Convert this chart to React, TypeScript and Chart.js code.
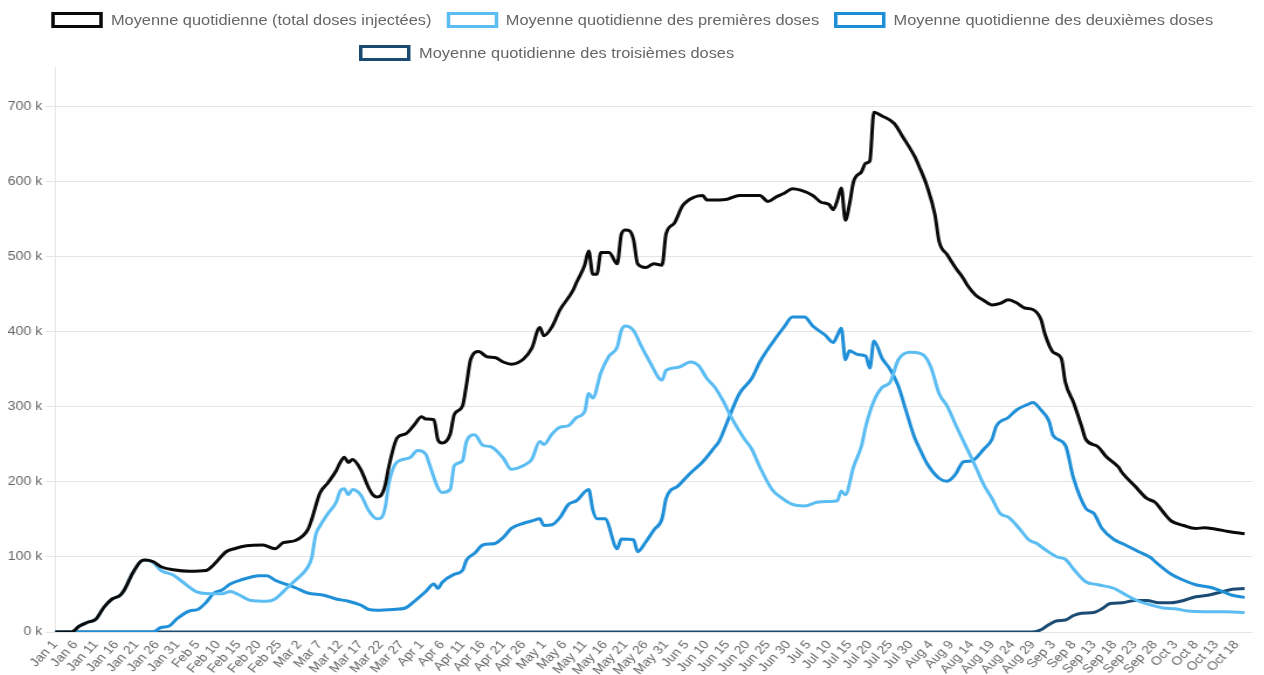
import React, { useEffect, useRef } from "react";
import { Chart, registerables } from "chart.js";

Chart.register(...registerables);

// ---- DATA (values in thousands of doses, x = day index from Jan 1, 2021) ----
const tickLabels: string[] = [
  "Jan 1", "Jan 6", "Jan 11", "Jan 16", "Jan 21", "Jan 26", "Jan 31", "Feb 5", "Feb 10", "Feb 15",
  "Feb 20", "Feb 25", "Mar 2", "Mar 7", "Mar 12", "Mar 17", "Mar 22", "Mar 27", "Apr 1", "Apr 6",
  "Apr 11", "Apr 16", "Apr 21", "Apr 26", "May 1", "May 6", "May 11", "May 16", "May 21", "May 26",
  "May 31", "Jun 5", "Jun 10", "Jun 15", "Jun 20", "Jun 25", "Jun 30", "Jul 5", "Jul 10", "Jul 15",
  "Jul 20", "Jul 25", "Jul 30", "Aug 4", "Aug 9", "Aug 14", "Aug 19", "Aug 24", "Aug 29", "Sep 3",
  "Sep 8", "Sep 13", "Sep 18", "Sep 23", "Sep 28", "Oct 3", "Oct 8", "Oct 13", "Oct 18",
];

const seriesNames: string[] = [
  "Moyenne quotidienne (total doses injectées)",
  "Moyenne quotidienne des premières doses",
  "Moyenne quotidienne des deuxièmes doses",
  "Moyenne quotidienne des troisièmes doses",
];

const seriesColors: string[] = ["#0a0a0a", "#5bbdf2", "#1f8fd8", "#1b4b72"];

const totalSeries: [number, number][] = [
  [0, 0], [4, 0], [6, 8], [8, 13], [10, 17], [12, 33], [14, 44], [16, 49], [17, 56], [19, 78],
  [21, 94], [22, 96], [24, 94], [26, 87], [29, 83], [33, 81], [37, 82], [39, 90], [42, 107], [44, 111],
  [47, 115], [51, 116], [54, 111], [56, 119], [59, 122], [62, 136], [63, 150], [65, 185], [67, 199], [69, 215],
  [70, 226], [71, 233], [72, 226], [73, 230], [75, 217], [77, 192], [78, 183], [79, 180], [80, 182], [81, 195],
  [82, 222], [84, 259], [86, 264], [88, 275], [90, 287], [91, 284], [93, 283], [94, 256], [95, 252], [97, 264],
  [98, 290], [100, 301], [101, 330], [102, 363], [104, 374], [106, 367], [108, 366], [110, 360], [112, 357], [115, 364],
  [117, 378], [119, 406], [120, 395], [122, 407], [124, 430], [127, 454], [128, 466], [130, 489], [131, 508], [132, 477],
  [133, 477], [134, 506], [136, 506], [138, 491], [139, 530], [140, 536], [141, 535], [142, 523], [143, 491], [145, 486],
  [147, 491], [149, 489], [150, 531], [152, 545], [154, 568], [157, 580], [159, 582], [160, 576], [163, 576], [165, 577],
  [168, 582], [171, 582], [173, 582], [175, 574], [177, 580], [179, 585], [181, 591], [183, 589], [186, 582], [188, 573],
  [190, 570], [191, 563], [192, 575], [193, 592], [194, 549], [195, 570], [196, 600], [198, 614], [199, 625], [200, 628],
  [201, 693], [203, 688], [206, 678], [208, 661], [211, 634], [212, 622], [214, 595], [216, 556], [217, 521], [219, 503],
  [221, 486], [223, 471], [224, 462], [226, 449], [228, 442], [230, 436], [232, 438], [234, 443], [236, 439], [238, 432],
  [240, 430], [242, 417], [243, 397], [245, 373], [247, 365], [248, 333], [250, 306], [252, 274], [253, 257], [256, 247],
  [258, 234], [261, 220], [262, 212], [265, 195], [268, 178], [270, 173], [272, 160], [274, 148], [277, 142], [280, 138],
  [282, 139], [285, 137], [288, 134], [292, 131],
];

const firstSeries: [number, number][] = [
  [0, 0], [4, 0], [6, 8], [8, 13], [10, 17], [12, 33], [14, 44], [16, 49], [17, 56], [19, 78],
  [21, 94], [22, 96], [24, 93], [26, 82], [29, 76], [31, 68], [35, 53], [38, 51], [41, 51], [43, 54],
  [45, 50], [48, 42], [52, 41], [54, 44], [57, 59], [59, 69], [62, 86], [63, 99], [64, 130], [65, 141],
  [67, 158], [69, 173], [70, 188], [71, 191], [72, 183], [73, 190], [75, 183], [77, 162], [79, 151], [80, 152],
  [81, 165], [82, 200], [84, 227], [87, 232], [89, 242], [91, 237], [92, 222], [94, 192], [95, 186], [97, 190],
  [98, 222], [100, 228], [101, 254], [103, 263], [105, 249], [107, 247], [110, 232], [112, 217], [115, 222], [117, 230],
  [119, 254], [120, 250], [122, 264], [124, 273], [126, 275], [128, 286], [130, 294], [131, 318], [132, 312], [134, 346],
  [136, 368], [138, 380], [139, 402], [140, 408], [142, 402], [144, 380], [146, 360], [149, 336], [150, 349], [153, 353],
  [156, 360], [158, 355], [160, 338], [162, 326], [164, 308], [166, 286], [169, 259], [171, 244], [173, 220], [176, 190],
  [178, 180], [181, 170], [184, 168], [187, 173], [190, 174], [192, 175], [193, 188], [194, 183], [196, 220], [198, 249],
  [199, 274], [201, 308], [203, 326], [205, 333], [207, 363], [210, 373], [213, 370], [215, 353], [217, 318], [219, 301],
  [221, 277], [224, 243], [226, 220], [228, 196], [230, 178], [232, 158], [234, 153], [237, 136], [239, 123], [241, 118],
  [243, 110], [246, 100], [248, 97], [250, 84], [253, 67], [256, 63], [260, 58], [263, 49], [266, 41], [269, 36],
  [272, 32], [275, 31], [278, 28], [282, 27], [287, 27], [292, 26],
];

const secondSeries: [number, number][] = [
  [0, 0], [24, 0], [26, 6], [28, 8], [30, 18], [33, 28], [35, 30], [37, 39], [39, 52], [41, 56],
  [43, 64], [46, 70], [48, 73], [50, 75], [52, 75], [54, 69], [57, 63], [59, 59], [62, 52], [66, 49],
  [69, 44], [72, 41], [75, 36], [77, 30], [79, 29], [83, 30], [86, 32], [88, 40], [91, 54], [93, 64],
  [94, 58], [95, 66], [98, 77], [100, 82], [101, 96], [103, 105], [105, 116], [108, 118], [110, 126], [112, 138],
  [115, 145], [117, 148], [119, 151], [120, 142], [122, 143], [124, 153], [126, 170], [128, 175], [131, 190], [132, 163],
  [133, 151], [135, 151], [138, 111], [139, 124], [142, 123], [143, 107], [145, 120], [147, 136], [149, 151], [150, 178],
  [153, 195], [156, 212], [159, 227], [162, 247], [163, 254], [165, 280], [168, 318], [171, 338], [173, 360], [176, 385],
  [179, 407], [181, 420], [184, 420], [186, 408], [189, 396], [191, 386], [192, 395], [193, 405], [194, 363], [195, 375],
  [197, 370], [199, 368], [200, 352], [201, 388], [203, 365], [205, 350], [207, 328], [209, 293], [211, 259], [212, 247],
  [214, 225], [217, 205], [219, 201], [221, 210], [223, 227], [225, 228], [228, 244], [230, 257], [231, 274], [234, 286],
  [236, 296], [239, 304], [240, 306], [242, 296], [244, 281], [245, 262], [248, 249], [250, 205], [253, 165], [255, 158],
  [257, 138], [260, 123], [262, 118], [266, 107], [269, 99], [270, 94], [274, 77], [277, 69], [280, 63], [284, 59],
  [287, 53], [289, 49], [292, 46],
];

const thirdSeries: [number, number][] = [
  [0, 0], [240, 0], [242, 3], [244, 10], [246, 15], [248, 16], [250, 22], [252, 25], [255, 26], [257, 31],
  [259, 38], [262, 39], [265, 42], [268, 42], [271, 39], [274, 39], [277, 42], [280, 47], [283, 49], [286, 53],
  [289, 57], [292, 58],
];

const allSeries = [totalSeries, firstSeries, secondSeries, thirdSeries];

const STRETCH = 1.17;
const LAYOUT_W = 1067;

export default function App() {
  const canvasRef = useRef<HTMLCanvasElement | null>(null);

  useEffect(() => {
    document.documentElement.style.overflow = "hidden";
    document.body.style.overflow = "hidden";
    const canvas = canvasRef.current;
    if (!canvas) return;
    const chart = new Chart(canvas, {
      type: "line",
      data: {
        datasets: allSeries.map((s, i) => ({
          label: seriesNames[i],
          data: s.map(([x, y]) => ({ x, y })),
          borderColor: seriesColors[i],
          backgroundColor: "#ffffff",
          borderWidth: 3,
          pointRadius: 0,
          fill: false,
          cubicInterpolationMode: "monotone" as const,
        })),
      },
      options: {
        animation: false,
        responsive: true,
        maintainAspectRatio: false,
        layout: { padding: { top: 5, left: 0, right: 0, bottom: 0 } },
        plugins: { legend: { display: false }, tooltip: { enabled: false } },
        scales: {
          x: {
            type: "linear",
            min: 0,
            max: 294,
            grid: { display: false, drawTicks: false },
            border: { display: false },
            ticks: {
              stepSize: 5,
              autoSkip: false,
              includeBounds: false,
              minRotation: 50,
              maxRotation: 50,
              padding: 6,
              color: "#666",
              font: { family: "'Liberation Sans', Arial, sans-serif", size: 12 },
              callback: (v: any) => {
                const n = Number(v);
                return n % 5 === 0 ? tickLabels[n / 5] ?? "" : "";
              },
            },
            afterFit: (s: any) => {
              s.height = 43;
            },
          },
          y: {
            min: 0,
            max: 753,
            grid: { color: "rgba(0,0,0,0.1)", tickLength: 8 },
            border: { display: true, color: "rgba(0,0,0,0.1)" },
            ticks: {
              stepSize: 100,
              includeBounds: false,
              color: "#666",
              font: { family: "'Liberation Sans', Arial, sans-serif", size: 12 },
              callback: (v: any) => `${v} k`,
            },
            afterFit: (s: any) => {
              s.width = 40.2;
            },
          },
        },
      },
    });
    return () => chart.destroy();
  }, []);

  const legendItem = (i: number) => (
    <div key={i} style={{ display: "flex", alignItems: "center" }}>
      <div
        style={{
          width: 38,
          height: 10,
          border: `3px solid ${seriesColors[i]}`,
          background: "#fff",
          marginRight: 7,
        }}
      />
      <span style={{ whiteSpace: "nowrap" }}>{seriesNames[i]}</span>
    </div>
  );

  return (
    <div style={{ width: LAYOUT_W, transform: `scaleX(${STRETCH})`, transformOrigin: "0 0" }}>
      <div
        style={{
          position: "relative",
          height: 49,
          fontFamily: "'Liberation Sans', Arial, sans-serif",
          fontSize: 14,
          color: "#666",
        }}
      >
        <div
          style={{
            position: "absolute",
            top: 3,
            left: 0,
            right: 0,
            height: 18,
            display: "flex",
            justifyContent: "center",
            alignItems: "center",
            gap: 12.6,
          }}
        >
          {[0, 1, 2].map(legendItem)}
        </div>
        <div
          style={{
            position: "absolute",
            top: 36,
            left: 0,
            right: 0,
            height: 18,
            paddingRight: 146,
            boxSizing: "border-box",
            display: "flex",
            justifyContent: "center",
            alignItems: "center",
          }}
        >
          {[3].map(legendItem)}
        </div>
      </div>
      <div style={{ position: "relative", height: 618 }}>
        <canvas ref={canvasRef} />
      </div>
    </div>
  );
}
